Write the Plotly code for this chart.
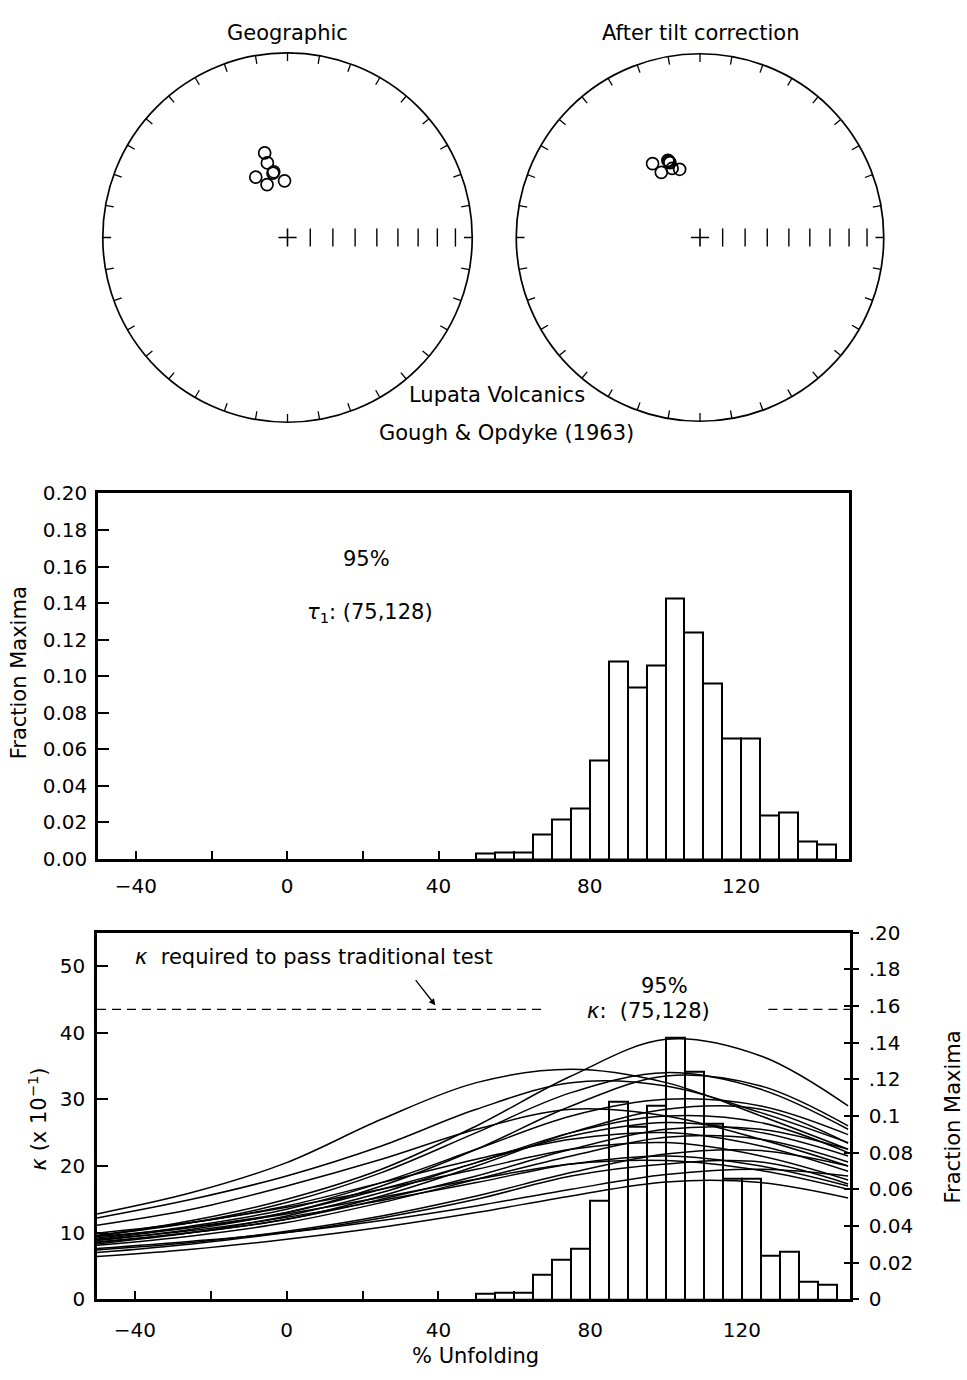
import numpy as np
import plotly.graph_objects as go

W, H = 967, 1380


def px(x):
    return x / W


def py(y):
    return 1 - y / H


FONT = "DejaVu Sans"
TICK_SIZE = 20
TEXT_SIZE = 21

# --- stereonet data: site-mean directions (declination, inclination) ---
geo_dec = [344.9, 344.9, 347.3, 348.2, 332.3, 338.9, 357.0]
geo_inc = [-50.8, -55.6, -60.7, -60.2, -59.7, -64.9, -64.9]
tilt_dec = [327.3, 329.3, 337.4, 338.1, 337.8, 338.0, 343.4]
tilt_inc = [-50.5, -56.1, -52.5, -53.8, -53.1, -56.7, -58.2]
incl_marks = [10, 20, 30, 40, 50, 60, 70, 80]
azimuth_ticks = list(range(0, 360, 10))
rim_tick_len = 0.045      # length of the rim ticks, in units of the net radius

# --- bootstrap fold test: fraction of maxima per 5 % unfolding bin ---
bin_start = [50, 55, 60, 65, 70, 75, 80, 85, 90, 95, 100, 105, 110, 115, 120, 125, 130, 135, 140]
frac_max = [0.0032, 0.0038, 0.0038, 0.0135, 0.0217, 0.0275, 0.0539, 0.108, 0.094, 0.1058,
            0.1425, 0.124, 0.0958, 0.0658, 0.0658, 0.0236, 0.0257, 0.0095, 0.0077]
bin_width = 5

# --- kappa (x 10^-1) versus % unfolding for pseudo-samples ---
unfold_pts = [-50, -25, 0, 25, 50, 75, 100, 125, 148]
kappa_curves = [
    [9.5, 11.8, 15.0, 19.5, 26.0, 33.5, 39.0, 36.5, 29.0],
    [12.8, 16.0, 20.5, 27.0, 32.5, 34.5, 32.5, 27.5, 22.5],
    [9.5, 11.5, 14.5, 19.0, 25.0, 31.0, 34.0, 31.5, 25.5],
    [8.8, 10.5, 13.0, 17.0, 22.5, 29.0, 33.5, 32.0, 26.0],
    [12.2, 15.0, 18.5, 23.0, 28.5, 32.5, 32.0, 28.0, 23.5],
    [9.2, 11.0, 13.5, 17.5, 22.5, 27.5, 30.0, 29.0, 24.7],
    [8.5, 10.0, 12.0, 15.5, 20.0, 25.0, 28.5, 28.5, 23.4],
    [11.1, 13.5, 17.0, 21.0, 25.5, 28.5, 27.5, 24.0, 20.0],
    [9.0, 10.8, 13.0, 16.5, 20.5, 25.0, 27.5, 26.5, 22.0],
    [8.3, 10.0, 12.5, 16.0, 20.5, 24.5, 26.5, 25.0, 21.5],
    [8.6, 10.0, 12.0, 15.0, 18.5, 22.5, 25.5, 25.5, 22.5],
    [9.6, 11.5, 14.0, 17.5, 21.0, 24.0, 25.0, 23.0, 19.2],
    [8.1, 9.5, 11.5, 14.5, 18.0, 21.5, 24.3, 24.0, 20.6],
    [9.9, 11.5, 13.8, 16.5, 19.5, 22.5, 23.5, 21.5, 17.9],
    [7.4, 8.5, 10.2, 12.5, 15.5, 19.0, 21.8, 22.3, 20.0],
    [8.9, 10.3, 12.3, 14.8, 17.5, 20.3, 21.5, 20.0, 17.0],
    [7.0, 8.3, 10.0, 12.2, 15.0, 18.5, 20.3, 20.6, 17.3],
    [7.6, 8.7, 10.0, 11.8, 14.0, 16.5, 18.7, 19.5, 18.5],
    [6.4, 7.5, 9.0, 10.8, 13.0, 15.5, 17.6, 17.5, 15.2],
    [9.4, 10.8, 12.8, 15.3, 18.0, 20.3, 20.8, 19.3, 16.5],
]

kappa_crit = 43.5          # kappa needed to pass the traditional fold test
crit_segments = [(-50, 68), (127, 148.5)]

x_range = [-50, 148.5]
x_ticks = [-40, -20, 0, 20, 40, 60, 80, 100, 120, 140]
x_ticktext = ["\u221240", "", "0", "", "40", "", "80", "", "120", ""]
frac_ticks = [0, 0.02, 0.04, 0.06, 0.08, 0.10, 0.12, 0.14, 0.16, 0.18, 0.20]
frac_ticktext_right = ["0", "0.02", "0.04", "0.06", "0.08", "0.1", ".12", ".14", ".16", ".18", ".20"]
kappa_ticks = [0, 10, 20, 30, 40, 50]


def eq_area_r(incs):
    """Equal-area (Schmidt) radius for a list of inclinations, horizon = 1."""
    return [float(np.sqrt(2) * np.sin(np.radians(90 - abs(i)) / 2)) for i in incs]


# rim ticks every 10 degrees of azimuth, as short radial segments
rim_r, rim_theta = [], []
for az in azimuth_ticks:
    rim_r += [1 - rim_tick_len, 1, None]
    rim_theta += [az, az, None]

fig = go.Figure()

# stereonets
for sub, dec, inc in (("polar", geo_dec, geo_inc), ("polar2", tilt_dec, tilt_inc)):
    fig.add_trace(go.Scatterpolar(
        r=rim_r, theta=rim_theta, mode="lines", line=dict(color="black", width=1.3),
        subplot=sub, showlegend=False, hoverinfo="skip"))
    fig.add_trace(go.Scatterpolar(
        r=eq_area_r(incl_marks), theta=[90] * len(incl_marks), mode="markers",
        marker=dict(symbol="line-ns-open", size=13, color="black", line=dict(width=1.4)),
        subplot=sub, showlegend=False, hoverinfo="skip"))
    fig.add_trace(go.Scatterpolar(
        r=[0], theta=[0], mode="markers",
        marker=dict(symbol="cross-thin-open", size=13, color="black", line=dict(width=1.6)),
        subplot=sub, showlegend=False, hoverinfo="skip"))
    fig.add_trace(go.Scatterpolar(
        r=eq_area_r(inc), theta=dec, mode="markers",
        marker=dict(symbol="circle-open", size=12, color="black", line=dict(width=1.7)),
        subplot=sub, showlegend=False))

# histogram panel
fig.add_trace(go.Bar(
    x=bin_start, y=frac_max, width=bin_width, offset=0,
    marker=dict(color="white", line=dict(color="black", width=2)),
    xaxis="x", yaxis="y", showlegend=False))

# kappa curves
for kc in kappa_curves:
    fig.add_trace(go.Scatter(
        x=unfold_pts, y=kc, mode="lines",
        line=dict(color="black", width=1.5, shape="spline", smoothing=1.0),
        xaxis="x2", yaxis="y2", showlegend=False))

for x0, x1 in crit_segments:
    fig.add_trace(go.Scatter(
        x=[x0, x1], y=[kappa_crit, kappa_crit], mode="lines",
        line=dict(color="black", width=1.4, dash="9px,6px"),
        xaxis="x2", yaxis="y2", showlegend=False))

# histogram repeated on the right-hand axis of the kappa panel
fig.add_trace(go.Bar(
    x=bin_start, y=frac_max, width=bin_width, offset=0,
    marker=dict(color="rgba(255,255,255,0)", line=dict(color="black", width=2)),
    xaxis="x2", yaxis="y3", showlegend=False))
# empty trace so the inward half of the right-hand ticks is drawn
fig.add_trace(go.Scatter(x=[None], y=[None], xaxis="x2", yaxis="y4", showlegend=False))

axis_common = dict(showline=True, linecolor="black", linewidth=2.5, showgrid=False, zeroline=False,
                   tickcolor="black", tickwidth=1.5,
                   tickfont=dict(family=FONT, size=TICK_SIZE, color="black"))

angular = dict(rotation=90, direction="clockwise", ticks="", showticklabels=False,
               showgrid=False, showline=True, linecolor="black", linewidth=1.7)
radial = dict(visible=False, range=[0, 1])

fig.update_layout(
    width=W, height=H, autosize=False,
    margin=dict(l=0, r=0, t=0, b=0),
    paper_bgcolor="white", plot_bgcolor="white",
    font=dict(family=FONT, size=TEXT_SIZE, color="black"),
    bargap=0,
    polar=dict(domain=dict(x=[px(99.5), px(475.5)], y=[py(417.5), py(41.5)]),
               bgcolor="white", radialaxis=radial, angularaxis=angular),
    polar2=dict(domain=dict(x=[px(513), px(887)], y=[py(416.5), py(42.5)]),
                bgcolor="white", radialaxis=radial, angularaxis=angular),
    xaxis=dict(domain=[px(98), px(849)], anchor="y", range=x_range, tickvals=x_ticks,
               ticktext=x_ticktext, ticks="inside", ticklen=8, mirror=True,
               ticklabelstandoff=7, **axis_common),
    yaxis=dict(domain=[py(862), py(490)], anchor="x", range=[0, 0.2], tickvals=frac_ticks,
               tickformat=".2f", ticks="inside", ticklen=11, mirror=True,
               ticklabelstandoff=4, **axis_common),
    xaxis2=dict(domain=[px(97), px(850)], anchor="y2", range=x_range, tickvals=x_ticks,
                ticktext=x_ticktext, ticks="inside", ticklen=8, mirror=True,
                ticklabelstandoff=11, **axis_common),
    yaxis2=dict(domain=[py(1310), py(937)], anchor="x2", range=[0, 55], tickvals=kappa_ticks,
                ticks="inside", ticklen=11, ticklabelstandoff=5, **axis_common),
    yaxis3=dict(overlaying="y2", anchor="x2", side="right", range=[0, 0.2], tickvals=frac_ticks,
                ticktext=frac_ticktext_right, ticks="outside", ticklen=6,
                ticklabelstandoff=6, **axis_common),
    yaxis4=dict(overlaying="y2", anchor="x2", side="right", range=[0, 0.2], tickvals=frac_ticks[1:-1],
                ticks="inside", ticklen=6, showticklabels=False, showline=False, showgrid=False,
                zeroline=False, tickcolor="black", tickwidth=1.5),
)

ann = []


def paper_text(x, y, text, angle=0, size=TEXT_SIZE, xanchor="center"):
    ann.append(dict(x=px(x), y=py(y), xref="paper", yref="paper", text=text, showarrow=False,
                    textangle=angle, xanchor=xanchor, yanchor="middle",
                    font=dict(family=FONT, size=size, color="black")))


paper_text(287, 21, "Geographic")
paper_text(700, 21, "After tilt correction")
paper_text(497, 390, "Lupata Volcanics")
paper_text(506, 428, "Gough &amp; Opdyke (1963)")
paper_text(19, 673, "Fraction Maxima", angle=-90)
paper_text(38, 1127, "<i>\u03ba</i> (x 10<sup>\u22121</sup>)", angle=-90)
paper_text(953, 1125, "Fraction Maxima", angle=-90)
paper_text(475, 1368, "% Unfolding")

# labels inside the histogram panel
ann.append(dict(x=21, y=0.164, xref="x", yref="y", text="95%", showarrow=False,
                font=dict(family=FONT, size=TEXT_SIZE, color="black")))
ann.append(dict(x=22, y=0.1348, xref="x", yref="y", text="<i>\u03c4</i><sub>1</sub>: (75,128)",
                showarrow=False, font=dict(family=FONT, size=TEXT_SIZE, color="black")))

# labels inside the kappa panel
ann.append(dict(x=-40.5, y=51.3, xref="x2", yref="y2", text="<i>\u03ba</i>  required to pass traditional test",
                showarrow=False, xanchor="left", font=dict(family=FONT, size=TEXT_SIZE, color="black")))
ann.append(dict(x=39.2, y=44.1, xref="x2", yref="y2", ax=33.7, ay=48.1, axref="x2", ayref="y2",
                text="", showarrow=True, arrowhead=2, arrowsize=1, arrowwidth=1.3, arrowcolor="black"))
ann.append(dict(x=99.5, y=47.0, xref="x2", yref="y2", text="95%", showarrow=False,
                font=dict(family=FONT, size=TEXT_SIZE, color="black")))
ann.append(dict(x=95.5, y=43.3, xref="x2", yref="y2", text="<i>\u03ba</i>:  (75,128)", showarrow=False,
                font=dict(family=FONT, size=TEXT_SIZE, color="black")))

fig.update_layout(annotations=ann)

fig.write_html("out.html")
